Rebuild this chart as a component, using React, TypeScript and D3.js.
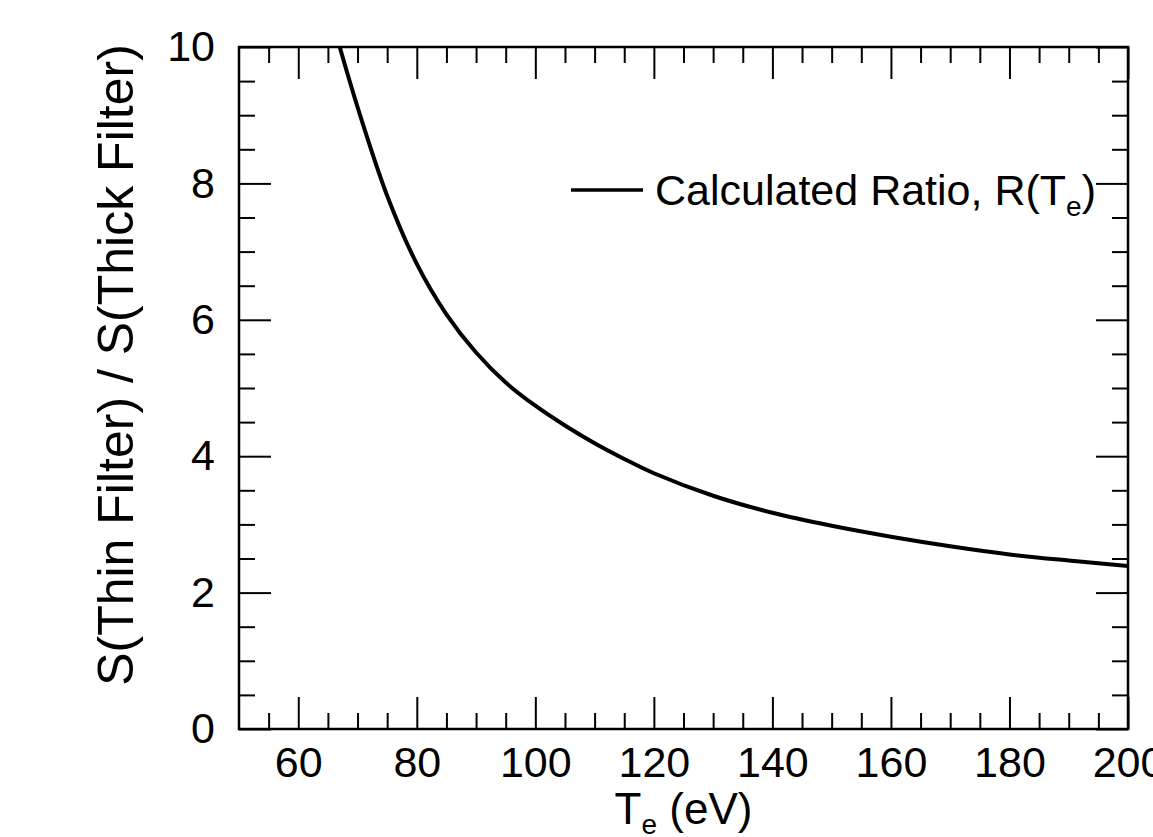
import React, { useEffect, useRef } from 'react';
import * as d3 from 'd3';

// values
const TE = [67, 70, 75, 80, 85, 90, 95, 100, 105, 110, 115, 120, 130, 140, 150, 160, 170, 180, 190, 200];
const RATIO = [10.0, 9.12, 7.82, 6.82, 6.08, 5.52, 5.08, 4.74, 4.45, 4.19, 3.96, 3.75, 3.42, 3.17, 2.98, 2.82, 2.68, 2.56, 2.47, 2.39];

const X_MAJOR = [60, 80, 100, 120, 140, 160, 180, 200];
const X_MINOR = [55, 65, 70, 75, 85, 90, 95, 105, 110, 115, 125, 130, 135, 145, 150, 155, 165, 170, 175, 185, 190, 195];
const Y_MAJOR = [0, 2, 4, 6, 8, 10];
const Y_MINOR = [0.5, 1, 1.5, 2.5, 3, 3.5, 4.5, 5, 5.5, 6.5, 7, 7.5, 8.5, 9, 9.5];

const FONT = '"Liberation Sans", Arial, Helvetica, sans-serif';

export default function App() {
    const ref = useRef(null);

    useEffect(() => {
        document.body.style.margin = '0';
        const svg = d3.select(ref.current);
        svg.selectAll('*').remove();

        const m = {left: 239, top: 47, right: 1128, bottom: 729};
        const x = d3.scaleLinear().domain([50, 200]).range([m.left, m.right]);
        const y = d3.scaleLinear().domain([0, 10]).range([m.bottom, m.top]);

        const styleAxis = (g) => {
            g.select('.domain').remove();
            g.selectAll('.tick line').attr('stroke', '#000').attr('stroke-width', 2);
            g.selectAll('.tick text')
                .attr('fill', '#000')
                .style('font-family', FONT)
                .style('font-size', '43px');
        };

        const addAxis = (axis, tx, ty) => {
            svg.append('g')
                .attr('transform', 'translate(' + tx + ',' + ty + ')')
                .call(axis)
                .call(styleAxis);
        };
        const blank = () => '';

        // bottom
        addAxis(d3.axisBottom(x).tickValues(X_MAJOR).tickSizeInner(-32).tickSizeOuter(0).tickPadding(17), 0, m.bottom);
        addAxis(d3.axisBottom(x).tickValues(X_MINOR).tickSizeInner(-16).tickSizeOuter(0).tickFormat(blank), 0, m.bottom);
        // top
        addAxis(d3.axisTop(x).tickValues(X_MAJOR).tickSizeInner(-32).tickSizeOuter(0).tickFormat(blank), 0, m.top);
        addAxis(d3.axisTop(x).tickValues(X_MINOR).tickSizeInner(-16).tickSizeOuter(0).tickFormat(blank), 0, m.top);
        // left
        addAxis(d3.axisLeft(y).tickValues(Y_MAJOR).tickSizeInner(-32).tickSizeOuter(0).tickPadding(24), m.left, 0);
        addAxis(d3.axisLeft(y).tickValues(Y_MINOR).tickSizeInner(-16).tickSizeOuter(0).tickFormat(blank), m.left, 0);
        // right
        addAxis(d3.axisRight(y).tickValues(Y_MAJOR).tickSizeInner(-32).tickSizeOuter(0).tickFormat(blank), m.right, 0);
        addAxis(d3.axisRight(y).tickValues(Y_MINOR).tickSizeInner(-16).tickSizeOuter(0).tickFormat(blank), m.right, 0);

        // frame
        svg.append('rect')
            .attr('x', m.left)
            .attr('y', m.top)
            .attr('width', m.right - m.left)
            .attr('height', m.bottom - m.top)
            .attr('fill', 'none')
            .attr('stroke', '#000')
            .attr('stroke-width', 2.5);

        // curve
        svg.append('clipPath')
            .attr('id', 'plotClip')
            .append('rect')
            .attr('x', m.left)
            .attr('y', m.top)
            .attr('width', m.right - m.left)
            .attr('height', m.bottom - m.top);

        const line = d3.line()
            .x(d => x(d[0]))
            .y(d => y(d[1]))
            .curve(d3.curveCatmullRom.alpha(0.5));

        svg.append('path')
            .datum(d3.zip(TE, RATIO))
            .attr('clip-path', 'url(#plotClip)')
            .attr('d', line)
            .attr('fill', 'none')
            .attr('stroke', '#000')
            .attr('stroke-width', 4)
            .attr('stroke-linejoin', 'round');

        // legend
        const ly = 190;
        svg.append('line')
            .attr('x1', 571).attr('x2', 643)
            .attr('y1', ly).attr('y2', ly)
            .attr('stroke', '#000')
            .attr('stroke-width', 3.5);
        const lt = svg.append('text')
            .attr('x', 655)
            .attr('y', ly + 15)
            .style('font-family', FONT)
            .style('font-size', '43px');
        lt.append('tspan').text('Calculated Ratio, R(T');
        lt.append('tspan').attr('dy', 11).style('font-size', '28px').text('e');
        lt.append('tspan').attr('dy', -11).text(')');

        // x label
        const xt = svg.append('text')
            .attr('x', (m.left + m.right) / 2)
            .attr('y', 824)
            .attr('text-anchor', 'middle')
            .style('font-family', FONT)
            .style('font-size', '44px');
        xt.append('tspan').text('T');
        xt.append('tspan').attr('dy', 10).style('font-size', '28px').text('e');
        xt.append('tspan').attr('dy', -10).text(' (eV)');

        // y label
        svg.append('text')
            .attr('transform', 'translate(133,365) rotate(-90)')
            .attr('text-anchor', 'middle')
            .style('font-family', FONT)
            .style('font-size', '50px')
            .text('S(Thin Filter) / S(Thick Filter)');
    }, []);

    return <svg ref={ref} width={1153} height={837} style={{display: 'block', background: '#fff'}} />;
}
